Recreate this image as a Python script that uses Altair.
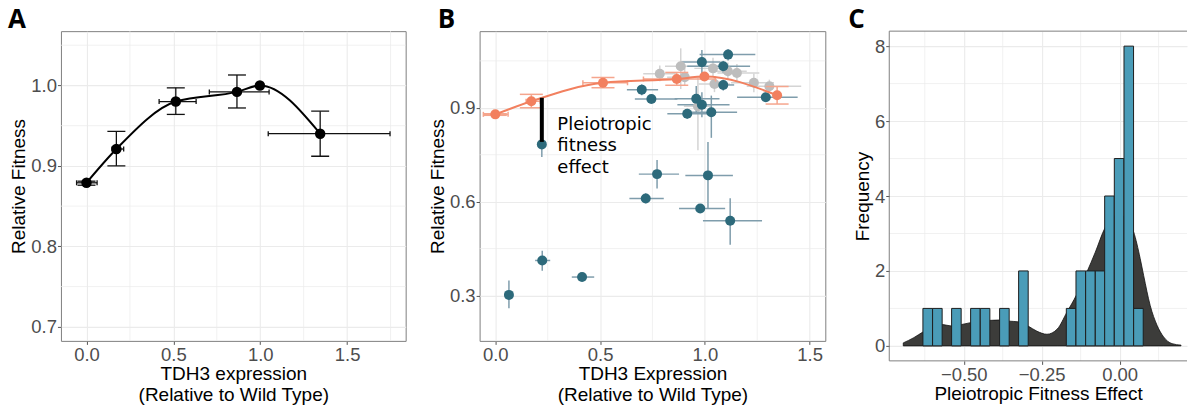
import altair as alt
import pandas as pd

# ---------------- data ----------------
# Panel A / orange reference series (TDH3 promoter variants)
ref_x   = [0.000, 0.172, 0.514, 0.866, 0.998, 1.345]
ref_y   = [0.879, 0.921, 0.980, 0.992, 1.000, 0.940]
ref_xlo = [-0.057, 0.147, 0.418, 0.707, 0.998, 1.046]
ref_xhi = [0.061, 0.214, 0.631, 1.051, 0.998, 1.747]
ref_ylo = [0.876, 0.900, 0.964, 0.972, 1.000, 0.912]
ref_yhi = [0.881, 0.943, 0.997, 1.013, 1.000, 0.968]

# Panel B teal points
teal_x   = [1.111, 0.986, 1.088, 1.088, 0.699, 0.745, 0.959, 0.986, 1.291, 0.916,
            1.031, 0.222, 0.772, 1.015, 0.718, 0.978, 1.121, 0.224, 0.414, 0.065]
teal_y   = [1.070, 1.046, 1.033, 0.973, 0.958, 0.928, 0.929, 0.910, 0.934, 0.881,
            0.886, 0.783, 0.688, 0.684, 0.610, 0.578, 0.539, 0.412, 0.359, 0.302]
teal_xlo = [0.975, 0.888, 0.916, 1.030, 0.628, 0.666, 0.856, 0.869, 1.154, 0.821,
            0.935, 0.205, 0.685, 0.907, 0.640, 0.877, 0.991, 0.190, 0.365, 0.055]
teal_xhi = [1.241, 1.075, 1.216, 1.140, 0.777, 0.869, 1.070, 1.118, 1.443, 1.031,
            1.154, 0.240, 0.877, 1.134, 0.804, 1.097, 1.273, 0.262, 0.472, 0.075]
teal_ylo = [1.051, 1.003, 1.011, 0.955, 0.940, 0.915, 0.886, 0.870, 0.920, 0.865,
            0.804, 0.743, 0.642, 0.577, 0.595, 0.565, 0.462, 0.379, 0.346, 0.259]
teal_yhi = [1.088, 1.085, 1.050, 0.990, 0.975, 0.940, 0.970, 0.950, 0.948, 0.897,
            0.939, 0.801, 0.733, 0.791, 0.627, 0.592, 0.611, 0.443, 0.372, 0.348]

# Panel B grey points
gray_x   = [0.785, 0.885, 1.039, 1.110, 1.153, 1.046, 1.234, 1.308, 0.904, 0.967]
gray_y   = [1.009, 1.033, 1.026, 1.017, 1.011, 0.976, 0.980, 0.969, 0.998, 0.905]
gray_xlo = [0.706, 0.810, 0.950, 1.020, 1.060, 0.970, 1.125, 1.200, 0.820, 0.900]
gray_xhi = [0.864, 0.970, 1.130, 1.200, 1.260, 1.120, 1.330, 1.460, 0.990, 1.030]
gray_ylo = [0.985, 0.960, 1.000, 0.990, 0.985, 0.950, 0.950, 0.950, 0.970, 0.764]
gray_yhi = [1.035, 1.090, 1.060, 1.045, 1.040, 1.000, 1.010, 0.990, 1.030, 1.000]

# Pleiotropic effect example and annotation
pleio_x, pleio_top, pleio_bottom = [0.222], [0.932], [0.791]
note_lines = ["Pleiotropic", "fitness", "effect"]
note_x, note_y = [0.296], [0.830]

# Panel C histogram + density
bin_width = 0.0307
bin_start = [-0.631, -0.600, -0.539, -0.478, -0.447, -0.385, -0.324, -0.171,
             -0.140, -0.109, -0.078, -0.048, -0.017, 0.014, 0.045]
bin_count = [1, 1, 1, 1, 1, 1, 2, 1, 2, 2, 2, 4, 5, 8, 1]
dens_x = [-0.694, -0.660, -0.631, -0.600, -0.569, -0.539, -0.507, -0.478, -0.447,
          -0.417, -0.386, -0.355, -0.324, -0.294, -0.265, -0.233, -0.200, -0.169,
          -0.139, -0.105, -0.078, -0.048, -0.020, 0.000, 0.020, 0.045, 0.066, 0.077,
          0.098, 0.120, 0.141, 0.168, 0.197]
dens_y = [0.08, 0.22, 0.37, 0.50, 0.57, 0.53, 0.57, 0.62, 0.66, 0.68, 0.69, 0.66,
          0.64, 0.53, 0.39, 0.31, 0.45, 0.90, 1.35, 1.97, 2.50, 3.13, 3.45, 3.50,
          3.40, 3.04, 2.33, 1.88, 1.08, 0.55, 0.24, 0.06, 0.02]

# axis ticks and minor grid lines
A_ticks_x, A_ticks_y = [0, 0.5, 1.0, 1.5], [0.7, 0.8, 0.9, 1.0]
A_minor_x, A_minor_y = [0.25, 0.75, 1.25, 1.75], [0.75, 0.85, 0.95, 1.05]
B_ticks_x, B_ticks_y = [0, 0.5, 1.0, 1.5], [0.3, 0.6, 0.9]
B_minor_x, B_minor_y = [0.25, 0.75, 1.25], [0.45, 0.75, 1.05]
C_ticks_x, C_ticks_y = [-0.5, -0.25, 0.0], [0, 2, 4, 6, 8]
C_minor_x, C_minor_y = [-0.625, -0.375, -0.125, 0.125], [1, 3, 5, 7]

# ---------------- style ----------------
FONT = "Liberation Sans"
LETTER_FONT = "Open Sans"
NOTE_FONT = "DejaVu Sans"
GRID = "#EBEBEB"
BORDER = "#808080"
ORANGE, ORANGE_ERR = "#F2805F", "#F5A58D"
TEAL, TEAL_ERR = "#2D6A7B", "#7F9DAC"
GREY, GREY_ERR = "#BDBDBD", "#D4D4D4"
X_TITLE_PAD = 1


def frame(n):
    return pd.DataFrame({"x": n["x"], "y": n["y"], "xlo": n["xlo"], "xhi": n["xhi"],
                         "ylo": n["ylo"], "yhi": n["yhi"]})


def minor_grid(vals, ch, sc, ax):
    df = pd.DataFrame({"v": vals})
    if ch == "x":
        return alt.Chart(df).mark_rule(color=GRID, strokeWidth=0.7).encode(
            x=alt.X("v:Q", scale=sc, axis=ax))
    return alt.Chart(df).mark_rule(color=GRID, strokeWidth=0.7).encode(
        y=alt.Y("v:Q", scale=sc, axis=ax))


def err_layers(df, X, Y, color, width, cap_w=None, cap_h=None, xmax=None):
    v = df[df.ylo < df.yhi]
    h = df[df.xlo < df.xhi]
    if xmax is not None:
        h = h[h.xhi <= xmax]   # out-of-range rows are dropped, as ggplot does
    layers = [
        alt.Chart(v).mark_rule(color=color, strokeWidth=width).encode(
            x=X("x"), y=Y("ylo"), y2="yhi:Q"),
        alt.Chart(h).mark_rule(color=color, strokeWidth=width).encode(
            y=Y("y"), x=X("xlo"), x2="xhi:Q"),
    ]
    if cap_w:
        for f in ("ylo", "yhi"):
            layers.append(alt.Chart(v).mark_tick(orient="horizontal", size=cap_w,
                                                 thickness=width, color=color, opacity=1)
                          .encode(x=X("x"), y=Y(f)))
    if cap_h:
        for f in ("xlo", "xhi"):
            layers.append(alt.Chart(h).mark_tick(orient="vertical", size=cap_h,
                                                 thickness=width, color=color, opacity=1)
                          .encode(x=X(f), y=Y("y")))
    return layers


def letter(txt, dx, dy):
    return alt.Chart(pd.DataFrame({"t": [txt]})).mark_text(
        font=LETTER_FONT, fontSize=26, fontWeight="bold", align="left",
        baseline="alphabetic", color="black").encode(
        text="t:N", x=alt.value(dx), y=alt.value(dy))


# ---------------- panel A ----------------
A_W, A_H = 345, 310
xA = alt.Scale(domain=[-0.147, 1.837], nice=False, zero=False)
yA = alt.Scale(domain=[0.6825, 1.0675], nice=False, zero=False)
axXA = alt.Axis(values=A_ticks_x, format=".1f", grid=True, titlePadding=X_TITLE_PAD,
                title=["TDH3 expression", "(Relative to Wild Type)"])
axYA = alt.Axis(values=A_ticks_y, format=".1f", grid=True, title="Relative Fitness")
XA = lambda f: alt.X(f"{f}:Q", scale=xA, axis=axXA)
YA = lambda f: alt.Y(f"{f}:Q", scale=yA, axis=axYA)

dfA = frame({"x": ref_x, "y": ref_y, "xlo": ref_xlo, "xhi": ref_xhi,
             "ylo": ref_ylo, "yhi": ref_yhi})

A_layers = [minor_grid(A_minor_x, "x", xA, axXA), minor_grid(A_minor_y, "y", yA, axYA)]
A_layers += err_layers(dfA, XA, YA, "#111111", 1.3, cap_w=18, cap_h=5)
A_layers += [
    alt.Chart(dfA).mark_line(color="black", strokeWidth=2, interpolate="monotone").encode(
        x=XA("x"), y=YA("y")),
    alt.Chart(dfA).mark_circle(color="black", size=110, opacity=1).encode(x=XA("x"), y=YA("y")),
    letter("A", -53, -3),
]
chartA = alt.layer(*A_layers).properties(width=A_W, height=A_H)

# ---------------- panel B ----------------
B_W, B_H = 346, 310
B_XMAX = 1.575
xB = alt.Scale(domain=[-0.075, B_XMAX], nice=False, zero=False)
yB = alt.Scale(domain=[0.155, 1.145], nice=False, zero=False)
axXB = alt.Axis(values=B_ticks_x, format=".1f", grid=True, titlePadding=X_TITLE_PAD,
                title=["TDH3 Expression", "(Relative to Wild Type)"])
axYB = alt.Axis(values=B_ticks_y, format=".1f", grid=True, title="Relative Fitness")
XB = lambda f: alt.X(f"{f}:Q", scale=xB, axis=axXB)
YB = lambda f: alt.Y(f"{f}:Q", scale=yB, axis=axYB)

dfT = frame({"x": teal_x, "y": teal_y, "xlo": teal_xlo, "xhi": teal_xhi,
             "ylo": teal_ylo, "yhi": teal_yhi})
dfG = frame({"x": gray_x, "y": gray_y, "xlo": gray_xlo, "xhi": gray_xhi,
             "ylo": gray_ylo, "yhi": gray_yhi})
dfP = pd.DataFrame({"x": pleio_x, "top": pleio_top, "bottom": pleio_bottom})
dfN = pd.DataFrame({"x": note_x, "y": note_y, "t": [note_lines]})

B_layers = [minor_grid(B_minor_x, "x", xB, axXB), minor_grid(B_minor_y, "y", yB, axYB)]
B_layers += err_layers(dfG, XB, YB, GREY_ERR, 1.5, xmax=B_XMAX)
B_layers += err_layers(dfT, XB, YB, TEAL_ERR, 1.5, xmax=B_XMAX)
B_layers += [
    alt.Chart(dfG).mark_circle(color=GREY, size=100, opacity=1).encode(x=XB("x"), y=YB("y")),
    alt.Chart(dfT).mark_circle(color=TEAL, size=100, opacity=1).encode(x=XB("x"), y=YB("y")),
]
B_layers += err_layers(dfA, XB, YB, ORANGE_ERR, 1.5, cap_w=23, cap_h=5, xmax=B_XMAX)
B_layers += [
    alt.Chart(dfA).mark_line(color=ORANGE, strokeWidth=2, interpolate="monotone").encode(
        x=XB("x"), y=YB("y")),
    alt.Chart(dfA).mark_circle(color=ORANGE, size=100, opacity=1).encode(x=XB("x"), y=YB("y")),
    alt.Chart(dfP).mark_rule(color="black", strokeWidth=4).encode(
        x=XB("x"), y=YB("top"), y2="bottom:Q"),
    alt.Chart(dfN).mark_text(font=NOTE_FONT, fontSize=18, align="left",
                             baseline="alphabetic", lineHeight=21.5, color="black").encode(
        x=XB("x"), y=YB("y"), text="t"),
    letter("B", -42, -3),
]
chartB = alt.layer(*B_layers).properties(width=B_W, height=B_H)

# ---------------- panel C ----------------
C_W, C_H = 298, 330
xC = alt.Scale(domain=[-0.739, -0.739 + C_W / 312.0], nice=False, zero=False)
yC = alt.Scale(domain=[-0.4, 8.4], nice=False, zero=False)
axXC = alt.Axis(values=C_ticks_x, format=".2f", grid=True, titlePadding=X_TITLE_PAD,
                title="Pleiotropic Fitness Effect")
axYC = alt.Axis(values=C_ticks_y, format="d", grid=True, title="Frequency")
XC = lambda f: alt.X(f"{f}:Q", scale=xC, axis=axXC)
YC = lambda f: alt.Y(f"{f}:Q", scale=yC, axis=axYC)

dfBins = pd.DataFrame({"start": bin_start, "count": bin_count})
dfBins["end"] = dfBins["start"] + bin_width
dfD = pd.DataFrame({"x": dens_x, "y": dens_y})

border_df = pd.DataFrame({"k": [0]})
C_layers = [
    minor_grid(C_minor_x, "x", xC, axXC), minor_grid(C_minor_y, "y", yC, axYC),
    alt.Chart(dfD).mark_area(color="#3C3C3A", stroke="#111111", strokeWidth=0.8,
                             interpolate="monotone", opacity=1).encode(x=XC("x"), y=YC("y")),
    alt.Chart(dfBins).mark_rect(fill="#4A9CB8", stroke="#1E1E1E", strokeWidth=1).encode(
        x=XC("start"), x2="end:Q", y=YC("count"), y2=alt.datum(0)),
    alt.Chart(border_df).mark_rule(color=BORDER, strokeWidth=1).encode(
        x=alt.value(0), x2=alt.value(C_W), y=alt.value(0)),
    alt.Chart(border_df).mark_rule(color=BORDER, strokeWidth=1).encode(
        x=alt.value(0), x2=alt.value(C_W), y=alt.value(C_H)),
    alt.Chart(border_df).mark_rule(color=BORDER, strokeWidth=1).encode(
        x=alt.value(0), y=alt.value(0), y2=alt.value(C_H)),
    letter("C", -41, -3),
]
chartC = alt.layer(*C_layers).properties(
    width=C_W, height=C_H, view=alt.ViewBackground(stroke="transparent"))

# ---------------- assemble ----------------
chart = alt.hconcat(chartA, chartB, chartC, spacing=21).properties(
    padding={"left": 7, "top": 6, "right": 0, "bottom": 0},
    background="white",
).configure_view(
    stroke=BORDER, strokeWidth=1
).configure_axis(
    labelFont=FONT, labelFontSize=18.5, labelColor="#4D4D4D", labelPadding=1,
    titleFont=FONT, titleFontSize=19, titleFontWeight="normal", titleColor="black",
    titlePadding=2, titleLineHeight=20.5,
    tickColor="#555555", tickSize=3.5, tickWidth=1,
    domain=False, gridColor=GRID, gridWidth=1.1, labelFlush=False,
)

chart.save("out.html", embed_options={"renderer": "svg", "actions": False})
